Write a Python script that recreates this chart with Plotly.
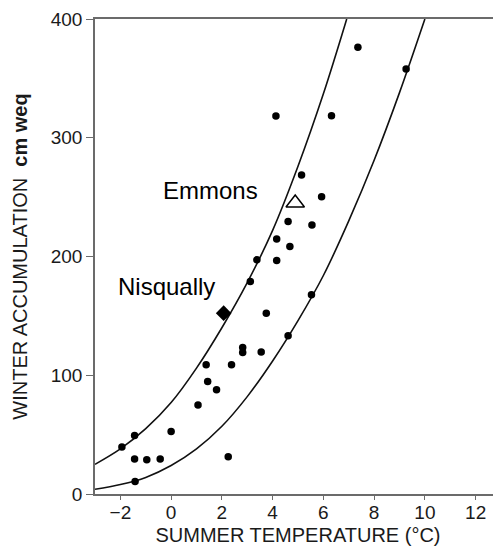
import plotly.graph_objects as go

# glacier points
summer_temp = [-1.94, -1.44, -1.44, -0.96, -0.43, -1.42, 0.0, 1.06, 1.38, 1.44,
               1.79, 2.25, 2.38, 2.82, 2.82, 3.12, 3.38, 3.55, 3.75, 4.13,
               4.16, 4.16, 4.61, 4.68, 4.61, 5.14, 5.55, 5.53, 5.93, 6.32,
               7.36, 9.26]
winter_accum = [39.5, 49.3, 29.4, 28.9, 29.4, 10.6, 52.7, 74.9, 108.8, 94.8,
                87.8, 31.4, 108.8, 123.4, 119.2, 178.9, 197.2, 119.5, 152.3, 318.3,
                214.8, 196.6, 229.4, 208.4, 133.2, 268.7, 226.6, 167.7, 250.4, 318.6,
                376.2, 357.9]

# envelope curves
upper_t = [-3, -2, -1, 0, 1, 2, 3, 4, 5, 6, 6.92]
upper_accum = [25, 38, 55, 77, 106, 140, 178, 222, 276, 337, 400]
lower_t = [-3, -2, -1, 0, 1, 2, 3, 4, 5, 6, 7, 8, 9, 10]
lower_accum = [4, 8, 14, 24, 38, 57, 82, 112, 146, 184, 230, 281, 338, 400]

# named glaciers
emmons_t, emmons_accum = [4.89], [245]
nisqually_t, nisqually_accum = [2.07], [152.3]

x_ticks = [-2, 0, 2, 4, 6, 8, 10, 12]
y_ticks = [0, 100, 200, 300, 400]

FONT = 'Liberation Sans, Arial, sans-serif'
AXIS_GRAY = '#6b6b6b'

fig = go.Figure()

fig.add_trace(go.Scatter(x=upper_t, y=upper_accum, mode='lines', line_shape='spline',
                         line=dict(color='#111111', width=1.6)))
fig.add_trace(go.Scatter(x=lower_t, y=lower_accum, mode='lines', line_shape='spline',
                         line=dict(color='#111111', width=1.6)))

fig.add_trace(go.Scatter(x=summer_temp, y=winter_accum, mode='markers',
                         marker=dict(color='black', size=7.5, symbol='circle')))

fig.add_trace(go.Scatter(x=emmons_t, y=emmons_accum, mode='markers',
                         marker=dict(symbol='triangle-up-open', size=16, color='black',
                                     line=dict(width=1.5, color='black'))))
fig.add_trace(go.Scatter(x=nisqually_t, y=nisqually_accum, mode='markers',
                         marker=dict(symbol='diamond', size=12, color='black')))

fig.add_annotation(x=-0.38, y=256, text='Emmons', showarrow=False, xanchor='left',
                   font=dict(family=FONT, size=24, color='black'))
fig.add_annotation(x=-2.17, y=175, text='Nisqually', showarrow=False, xanchor='left',
                   font=dict(family=FONT, size=24, color='black'))

# page body has an 8px margin, so the figure is sized to fit inside the window
fig.update_layout(
    width=493,
    height=545,
    margin=dict(l=87, r=0, t=11, b=59),
    plot_bgcolor='white',
    paper_bgcolor='white',
    showlegend=False,
    font=dict(family=FONT, color='#1a1a1a'),
    xaxis=dict(
        range=[-3, 13],
        tickvals=x_ticks,
        ticks='outside',
        ticklen=4,
        tickcolor=AXIS_GRAY,
        tickfont=dict(size=19),
        ticklabelstandoff=-4,
        showgrid=False,
        zeroline=False,
        showline=True,
        linecolor=AXIS_GRAY,
        linewidth=1.5,
        mirror=True,
        title=dict(text='SUMMER TEMPERATURE (°C)', font=dict(size=20), standoff=6),
    ),
    yaxis=dict(
        range=[0, 400],
        tickvals=y_ticks,
        ticks='outside',
        ticklen=7,
        tickcolor=AXIS_GRAY,
        tickfont=dict(size=19),
        showgrid=False,
        zeroline=False,
        showline=True,
        linecolor=AXIS_GRAY,
        linewidth=1.5,
        title=dict(text='WINTER ACCUMULATION  <b>cm weq</b>', font=dict(size=20), standoff=18),
    ),
)

fig.write_html("out.html")
